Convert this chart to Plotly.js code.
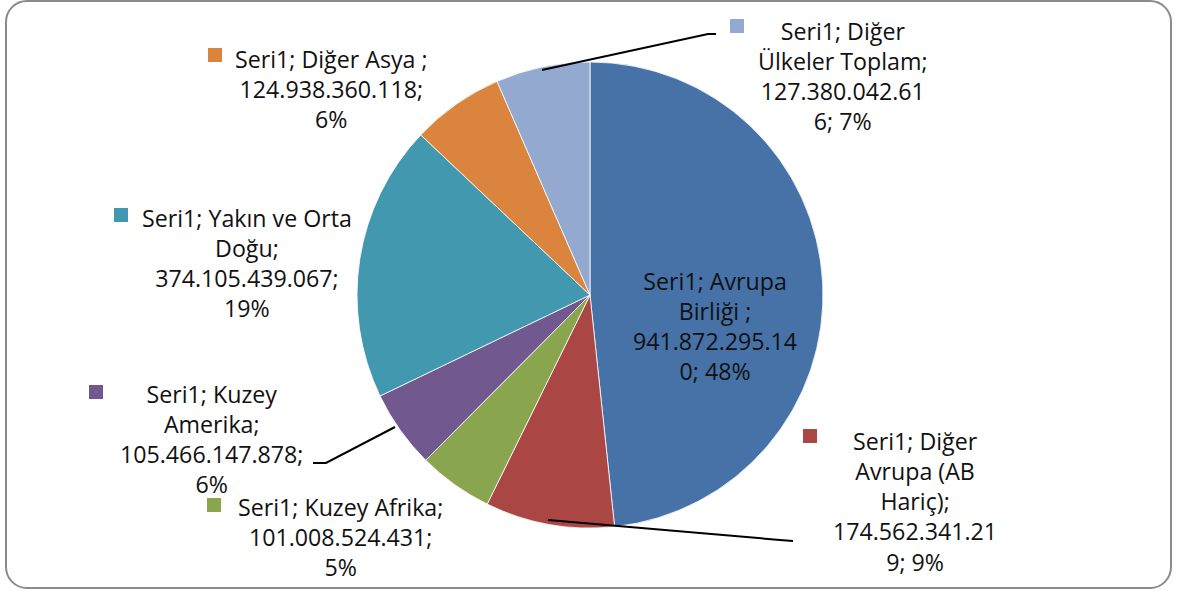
<!DOCTYPE html>
<html>
<head>
<meta charset="utf-8">
<script src="https://cdn.plot.ly/plotly-3.0.1.min.js"></script>
<style>
  html, body { margin: 0; padding: 0; background: #ffffff; }
  #wrap { position: relative; width: 1182px; height: 592px; }
  #chart { position: absolute; left: 0; top: 0; width: 1182px; height: 592px; }
  #frame { position: absolute; left: 5px; top: 0px; width: 1163px; height: 585px;
           border: 2px solid #8a8a8a; border-radius: 22px; pointer-events: none; }
</style>
</head>
<body>
<div id="wrap">
  <div id="chart"></div>
  <div id="frame"></div>
</div>
<script>
// ---- data ----
const categories = [
  "Avrupa Birliği",
  "Diğer Avrupa (AB Hariç)",
  "Kuzey Afrika",
  "Kuzey Amerika",
  "Yakın ve Orta Doğu",
  "Diğer Asya",
  "Diğer Ülkeler Toplam"
];
const values = [
  941872295140,
  174562341219,
  101008524431,
  105466147878,
  374105439067,
  124938360118,
  127380042616
];
const labelText = [
  "Seri1; Avrupa<br>Birliği ;<br>941.872.295.14<br>0; 48%",
  "Seri1; Diğer<br>Avrupa (AB<br>Hariç);<br>174.562.341.21<br>9; 9%",
  "Seri1; Kuzey Afrika;<br>101.008.524.431;<br>5%",
  "Seri1; Kuzey<br>Amerika;<br>105.466.147.878;<br>6%",
  "Seri1; Yakın ve Orta<br>Doğu;<br>374.105.439.067;<br>19%",
  "Seri1; Diğer Asya ;<br>124.938.360.118;<br>6%",
  "Seri1; Diğer<br>Ülkeler Toplam;<br>127.380.042.61<br>6; 7%"
];
const colors = ["#4672A8", "#AA4643", "#89A54E", "#71588F", "#4198AF", "#DB843D", "#93A9CF"];

// ---- layout helpers (pixel -> paper) ----
const W = 1182, H = 592;
const px = x => x / W;
const py = y => 1 - y / H;

const cx = 590, cy = 295, R = 233;

// label block centres (pixels) and legend-key square centres
const labelPos = [
  [715, 326], [915, 501], [340, 537], [211, 439], [247, 263], [331, 89], [843, 76]
];
const keyPos = [
  null, [810, 436], [214, 505], [96, 392], [121, 215], [215, 55], [737, 26]
];
// leader lines (pixels)
const leaders = [
  [[542, 70], [708, 34], [716, 34]],
  [[395, 427], [326, 463], [313, 463]],
  [[548, 520], [780, 540], [793, 541]]
];

const trace = {
  type: "pie",
  labels: categories,
  values: values,
  sort: false,
  direction: "clockwise",
  rotation: 0,
  textinfo: "none",
  hoverinfo: "label+value+percent",
  marker: { colors: colors, line: { color: "#ffffff", width: 0.8 } },
  domain: { x: [px(cx - R), px(cx + R)], y: [py(cy + R), py(cy - R)] },
  showlegend: false
};

const annotations = labelText.map((t, i) => ({
  xref: "paper", yref: "paper",
  x: px(labelPos[i][0]), y: py(labelPos[i][1]),
  xanchor: "center", yanchor: "middle",
  text: t, showarrow: false, align: "center",
  font: { family: "Open Sans, sans-serif", size: 23.2, color: "#111111" }
}));

const shapes = [];
keyPos.forEach((k, i) => {
  if (!k) return;
  const s = 7;
  shapes.push({
    type: "rect", xref: "paper", yref: "paper",
    x0: px(k[0] - s), x1: px(k[0] + s), y0: py(k[1] + s), y1: py(k[1] - s),
    fillcolor: colors[i], line: { width: 0 }, layer: "below"
  });
});
leaders.forEach(pts => {
  const d = pts.map((p, j) => (j ? "L" : "M") + px(p[0]) + "," + py(p[1])).join(" ");
  shapes.push({
    type: "path", xref: "paper", yref: "paper", path: d,
    line: { color: "#000000", width: 2 }
  });
});

const layout = {
  width: W, height: H,
  margin: { l: 0, r: 0, t: 0, b: 0 },
  paper_bgcolor: "#ffffff",
  plot_bgcolor: "#ffffff",
  showlegend: false,
  annotations: annotations,
  shapes: shapes
};

Plotly.newPlot("chart", [trace], layout, { displayModeBar: false, staticPlot: true });
</script>
</body>
</html>
